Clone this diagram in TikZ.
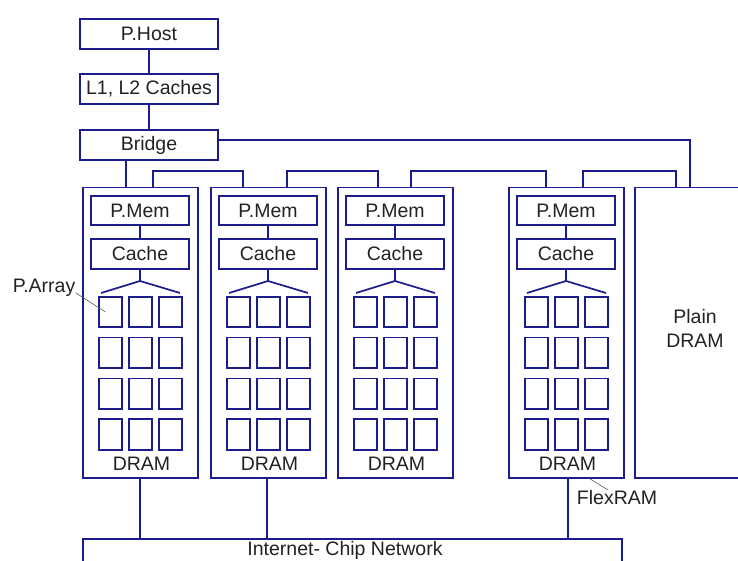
\documentclass[tikz,border=0pt]{standalone}
\usepackage{fontspec}
\setmainfont{Liberation Sans}
\definecolor{navy}{RGB}{28,28,140}
\definecolor{txt}{RGB}{34,34,34}
\begin{document}
\begin{tikzpicture}[x=1pt,y=-1pt,
  wire/.style={draw=navy, line width=1.7pt},
  box/.style={draw=navy, line width=1.7pt, inner sep=0pt, text=txt, font=\fontsize{19.5}{22}\selectfont},
  cell/.style={draw=navy, line width=1.7pt, inner sep=0pt, minimum width=23pt, minimum height=30.5pt},
  lbl/.style={inner sep=0pt, text=txt, font=\fontsize{19.5}{22}\selectfont, anchor=base},
  leader/.style={draw=black!65, line width=0.6pt}]
\useasboundingbox (0,0) rectangle (738,561);

% host column
\node[box, minimum width=138pt, minimum height=30pt] (host) at (149,34) {P.Host};
\node[box, minimum width=138pt, minimum height=30pt] (l12) at (149,89) {L1, L2 Caches};
\node[box, minimum width=138pt, minimum height=30pt] (bridge) at (149,145) {Bridge};
\draw[wire] (host) -- (l12);
\draw[wire] (l12) -- (bridge);

% modules
\foreach \i/\cx in {1/140.5, 2/268.5, 3/395.5, 4/566.5} {
  \node[box, minimum width=115pt, minimum height=290.5pt] (m\i) at (\cx,332.75) {};
  \node[box, minimum width=98.5pt, minimum height=29.5pt] (pm\i) at (\cx-0.5,210.5) {P.Mem};
  \node[box, minimum width=98.5pt, minimum height=30pt] (ca\i) at (\cx-0.5,254) {Cache};
  \draw[wire] (pm\i) -- (ca\i);
  \coordinate (f\i) at (\cx-0.5,281);
  \coordinate (fl\i) at (\cx-39.5,293);
  \coordinate (fr\i) at (\cx+39.5,293);
  \draw[wire] (ca\i.south) -- (f\i);
  \draw[wire] (fl\i) -- (f\i) -- (fr\i);
  \foreach \r/\y in {1/312, 2/352.8, 3/393.6, 4/434.4} {
    \foreach \c/\dx in {1/-30, 2/0, 3/30} {
      \node[cell] (s\i\r\c) at (\cx+\dx,\y) {};
    }
  }
  \node[lbl] (d\i) at (\cx+1,470) {DRAM};
}

% plain DRAM
\coordinate (pl) at (635,187.5);
\coordinate (plb) at (635,478);
\draw[wire] (745,187.5) -- (pl) -- (plb) -- (745,478);
\node[lbl] (plain) at (695,323) {Plain};
\node[lbl] (pdram) at (695,347) {DRAM};

% network
\coordinate (netl) at (83,539);
\coordinate (netr) at (622,539);
\draw[wire] (83,570) -- (netl) -- (netr) -- (622,570);
\node[lbl] (net) at (345,555) {Internet- Chip Network};

% bridge links
\coordinate (bb) at ([xshift=-23pt]bridge.south);
\draw[wire] (bb) -- (bb |- m1.north);
\draw[wire] ([yshift=5pt]bridge.east) -| ([xshift=55pt]pl);

% module top links
\draw[wire] ([xshift=71pt]m1.north west) -- ++(0,-15.5) -| ([xshift=33pt]m2.north west);
\draw[wire] ([xshift=77pt]m2.north west) -- ++(0,-15.5) -| ([xshift=41pt]m3.north west);
\draw[wire] ([xshift=74pt]m3.north west) -- ++(0,-15.5) -| ([xshift=38pt]m4.north west);
\draw[wire] ([xshift=75pt]m4.north west) -- ++(0,-15.5) -| ([xshift=41pt]pl);

% network links
\draw[wire] ([xshift=-0.5pt]m1.south) -- ([xshift=-0.5pt]m1.south |- netl);
\draw[wire] ([xshift=-1.5pt]m2.south) -- ([xshift=-1.5pt]m2.south |- netl);
\draw[wire] ([xshift=1.5pt]m4.south) -- ([xshift=1.5pt]m4.south |- netl);

% labels with leaders
\node[lbl] (parr) at (44,292.7) {P.Array};
\draw[leader] (parr.base east) -- ([xshift=-5pt]s111.center);
\node[lbl] (flex) at (617,504.3) {FlexRAM};
\draw[leader] ([xshift=23.5pt]m4.south) -- ([xshift=-9pt]flex.north);
\end{tikzpicture}
\end{document}
